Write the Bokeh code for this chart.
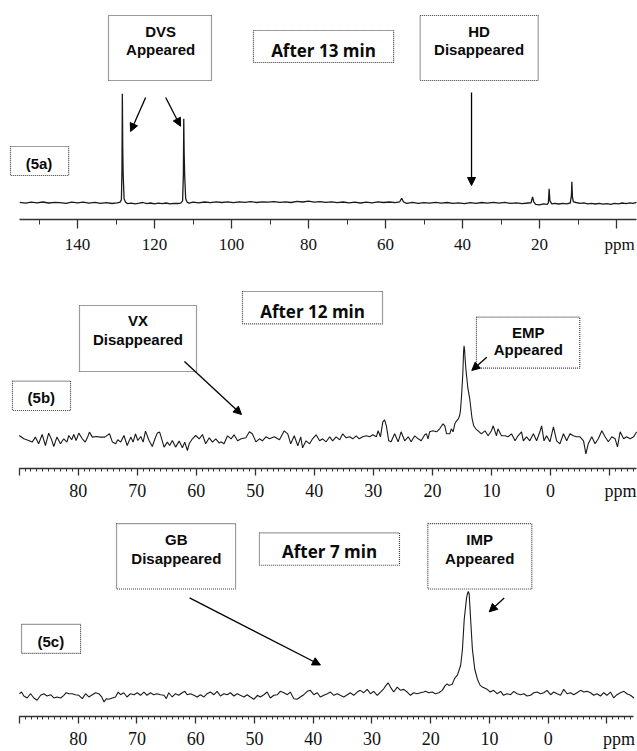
from bokeh.plotting import figure
from bokeh.models import Range1d, FixedTicker, Arrow, NormalHead, LinearAxis
from bokeh.layouts import column
from bokeh.embed import file_html
from bokeh.resources import INLINE
from bokeh.core.properties import value

# ---------------- data (intensity in arbitrary units) ----------------
ppm_a = [155.0, 153.5, 152.0, 150.5, 149.0, 147.5, 146.0, 144.5, 143.0, 141.5, 140.0, 138.5, 137.0,
         135.5, 134.0, 132.5, 131.0, 129.8, 129.0, 128.6, 128.45, 128.35, 128.25, 128.15, 127.9, 127.5,
         127.0, 126.0, 125.0, 124.0, 123.0, 122.0, 121.0, 120.0, 119.0, 118.0, 117.0, 116.0, 115.0,
         114.0, 113.2, 112.7, 112.5, 112.4, 112.3, 112.15, 111.9, 111.5, 111.0, 110.0, 108.5, 107.0,
         105.5, 104.0, 102.5, 101.0, 99.5, 98.0, 96.5, 95.0, 93.5, 92.0, 90.5, 89.0, 87.5, 86.0, 84.5,
         83.0, 81.5, 80.0, 78.5, 77.0, 75.5, 74.0, 72.5, 71.0, 69.5, 68.0, 66.5, 65.0, 63.5, 62.0, 60.5,
         59.0, 57.5, 56.3, 55.8, 55.3, 54.5, 53.0, 51.5, 50.0, 48.5, 47.0, 45.5, 44.0, 42.5, 41.0, 39.5,
         38.0, 36.5, 35.0, 33.5, 32.0, 30.5, 29.0, 27.5, 26.0, 24.5, 23.0, 22.2, 21.8, 21.5, 21.0, 20.0,
         19.0, 18.0, 17.7, 17.5, 17.3, 16.8, 16.0, 15.0, 14.0, 13.0, 12.0, 11.7, 11.6, 11.45, 11.2,
         10.5, 9.5, 8.5, 7.5, 6.5, 5.5, 4.5, 3.5, 2.5, 1.5, 0.5, -0.5, -1.5, -2.5, -3.4, -4.3, -5.2]
int_a = [0.5, -0.3, 0.6, 0.0, 0.8, -0.2, 0.5, 0.2, -0.5, 0.6, 0.0, 0.7, -0.3,
         0.4, -0.6, 0.2, -0.7, 0.0, 0.5, 3.0, 32.0, 109.0, 55.0, 30.0, 4.0, 0.5,
         -0.8, -0.3, -1.0, -0.4, 0.3, -0.8, -0.2, -1.0, -0.3, -0.9, -0.2, -1.0, -0.5,
         -0.7, -0.4, 2.0, 28.0, 84.0, 50.0, 26.0, 4.0, 0.5, -0.3, 0.6, 0.0, 0.8,
         0.2, 1.0, 0.3, 0.9, 0.2, 1.0, 0.5, 1.2, 0.3, 1.0, 0.6, 1.2, 0.4, 1.0, 0.3,
         1.4, 0.8, 1.6, 0.6, 1.2, 0.4, 1.0, 0.2, 0.8, 0.0, 0.6, -0.2, 0.7, 0.0, 0.9, 0.3,
         0.8, 0.2, 1.0, 4.5, 0.8, -0.5, 0.4, -0.6, 0.2, -0.4, 0.5, -0.3, 0.3, -0.5, 0.0, -0.8,
         0.2, -0.6, 0.3, -0.4, 0.5, -0.3, 0.4, -0.6, 0.0, -0.8, -0.2, 0.0, 6.0, 1.0, -1.5, -2.0,
         -1.0, -1.5, 0.0, 14.0, 2.0, -1.0, -0.5, -1.2, -0.6, -1.0, -0.2, 8.0, 21.0, 6.0, 1.0,
         0.3, -0.5, 0.0, -1.0, -0.5, -1.2, -0.6, -1.4, -0.8, -1.5, -0.6, -1.0, -0.2, -0.8, 0.0, -0.6, 0.4]

ppm_b = [90.0, 89.2, 88.4, 87.8, 87.25, 86.7, 86.1, 85.55, 85.0, 84.5, 84.14, 83.6, 83.0, 82.45, 81.9,
         81.6, 81.1, 80.75, 80.35, 79.9, 79.3, 78.8, 78.4, 78.1, 77.6, 76.95, 76.2, 75.5, 74.7, 74.2,
         73.65, 73.3, 72.8, 72.25, 71.7, 71.1, 70.7, 70.3, 69.9, 69.4, 69.0, 68.6, 68.0, 67.45, 67.0,
         66.6, 66.2, 65.45, 64.9, 64.5, 64.05, 63.5, 62.9, 62.35, 61.95, 61.5, 61.2, 60.65, 60.1, 59.5,
         58.95, 58.4, 57.8, 57.25, 56.7, 56.1,
         55.84, 55.3, 54.7, 54.1, 53.6, 53.0, 52.4, 51.6, 51.0, 50.5, 49.9, 49.3, 48.8, 48.2, 47.6,
         46.8, 45.9, 45.1, 44.5, 44.0, 43.4, 42.8, 42.3, 42.0, 41.4, 40.8, 40.3, 39.7, 39.1, 38.6, 38.0,
         37.4, 36.9, 36.3, 35.7, 35.2, 34.6, 34.0, 33.5, 32.9, 32.4, 31.8, 31.2, 30.6, 30.1, 29.5, 29.2,
         28.8, 28.4, 28.1, 27.8, 27.4, 27.0, 26.4, 25.8, 25.3, 24.7, 24.1, 23.6, 23.0, 22.4, 21.9, 21.3,
         21.0, 20.75, 20.46, 19.9, 19.3, 18.77, 18.2, 17.9, 17.6, 17.07, 16.8, 16.5, 16.2, 15.9, 15.6,
         15.4, 15.25, 15.05, 14.85, 14.72, 14.64, 14.55, 14.45, 14.3, 14.0, 13.7, 13.3, 13.0, 12.65,
         12.26, 11.7, 11.1, 10.56, 10.0, 9.7, 9.15, 8.9, 8.3, 7.7, 7.2, 6.6, 6.0, 5.5, 4.9, 4.6, 4.05,
         3.5, 2.9, 2.35, 1.8, 1.5, 1.1, 0.66, 0.09, -0.5, -1.04, -1.6, -2.2, -2.74, -3.3, -3.87, -4.4,
         -5.0, -5.6, -6.0, -6.4, -7.0, -7.55, -8.1, -8.7, -9.25, -9.8, -10.4, -10.95, -11.35, -11.8,
         -12.4, -12.9, -13.5, -14.1, -14.6]
int_b = [4.3, 1.0, -0.7, -2.3, 2.7, -4.0, 5.3, -5.7, 6.7, 0.0, -6.7, 2.7, -4.0, 1.0, -2.3,
         4.3, 0.0, 5.3, -0.7, 6.7, 1.0, -2.3, 2.7, 7.7, 2.7, 3.3, 2.7, 2.7, 6.0, -2.3,
         -4.0, 0.0, -2.3, 4.3, -5.7, 2.7, -2.3, 6.0, -0.7, 3.3, -2.3, 8.7, -0.7, -6.7, 1.0,
         6.7, 7.7, -7.3, -2.3, -5.7, -0.7, -7.3, -1.3, -8.0, -2.3, -10.7, -4.0, 1.0, 4.3, 1.0,
         5.3, -4.0, 2.0, -2.3, 1.0, -3.3,
         -2.0, -4.0, 4.0, 1.0, 5.0, -1.0, 1.0, 2.0, 8.0, 6.0, -2.0, 1.0, -1.0, 3.0, 1.0,
         3.0, 0.0, 9.0, 6.0, -4.0, 4.0, -6.0, 3.0, -8.0, -1.0, -4.0, 1.0, 5.0, -1.0, 1.0, -2.0,
         3.0, -1.0, 3.0, 0.0, 6.0, 2.0, 3.0, 1.0, 4.0, 1.0, 3.0, 4.0, 3.0, 5.0, 3.0, 9.0,
         3.0, 18.0, 20.0, 14.0, -1.0, -2.0, 6.0, -2.0, 8.0, -1.0, 3.0, -2.0, 4.0, 1.0, -1.0, 5.0,
         6.0, 1.0, 8.0, 9.0, 8.0, 11.0, 16.0, 14.0, 6.0, 6.0, 11.0, 8.0, 16.0, 19.0, 21.0,
         24.0, 29.0, 45.0, 66.0, 88.0, 94.0, 90.0, 80.0, 69.0, 52.0, 42.0, 22.0, 14.0, 11.0,
         9.0, 6.0, 9.0, 4.0, 9.0, 14.0, 4.0, 11.0, 4.0, 4.0, 3.0, 6.0, -1.0, 4.0, 8.0, -1.0, 3.0,
         -1.0, 6.0, -1.0, 8.0, 14.0, -1.0, 4.0, -2.0, 13.0, -1.0, -4.0, 6.0, -1.0, 6.0, 4.0, 3.0,
         3.0, -1.0, -14.0, -4.0, 3.0, -4.0, 1.0, 9.0, 3.0, -2.0, 3.0, 1.0, -7.0, 8.0,
         1.0, 3.0, 1.0, 3.0, 8.0]

ppm_c = [90.0, 89.65, 89.25, 88.7, 88.1, 87.55, 87.0, 86.4, 85.85, 85.3, 84.7, 84.15, 83.6, 83.0,
         82.45, 82.05, 81.6, 81.0, 80.5, 79.9, 79.3, 78.75, 78.2, 77.6, 77.05, 76.5, 76.0, 75.6, 75.2,
         74.8, 74.2, 73.65, 73.2, 72.8, 72.25, 71.7, 71.1, 70.5, 69.95, 69.4, 68.8, 68.3, 67.7, 67.15,
         66.6, 66.0, 65.4, 65.0, 64.6, 64.0, 63.45, 62.9, 62.3, 61.85, 61.45, 60.9, 60.3, 59.75, 59.2,
         58.6, 58.05, 57.5, 56.9, 56.35, 55.8,
         55.2, 54.65, 54.1, 53.5, 52.95, 52.4, 51.8, 51.25, 50.7, 50.1, 49.5, 49.0, 48.4, 47.85, 47.3,
         46.7, 46.1, 45.6, 45.0, 44.4, 43.9, 43.3, 42.75, 42.2, 41.6, 41.0, 40.5, 39.9, 39.3, 38.8, 38.2,
         37.6, 37.05, 36.5, 35.9, 35.4, 34.8, 34.2, 33.7, 33.1, 32.5, 32.0, 31.4, 30.8, 30.25, 29.7,
         29.1, 28.55, 28.0, 27.6, 27.25, 26.85, 26.3, 25.7, 25.15, 24.6, 24.0, 23.45, 22.9, 22.3, 21.75,
         21.2, 20.9, 20.3, 19.75, 19.2, 18.6, 18.05, 17.5, 17.2, 16.9, 16.6, 16.3, 16.2, 15.9, 15.45,
         14.9, 14.6, 14.3, 13.9, 13.75, 13.6, 13.45, 13.2, 12.9, 12.5, 12.05, 11.6, 11.2, 10.4, 9.85,
         9.3, 8.7, 8.1, 7.6, 7.0, 6.4, 5.85, 5.3, 4.7, 4.15, 3.6, 3.0, 2.45, 1.9, 1.3, 0.75, 0.2, -0.4,
         -0.95, -1.5, -2.1, -2.65, -3.2, -3.8, -4.35, -4.9, -5.5, -6.05, -6.6, -7.2, -7.75, -8.3, -8.9,
         -9.45, -10.0, -10.6, -11.15, -11.7, -12.3, -12.9, -13.4, -14.0, -14.6]
int_c = [1.3, 3.0, -1.0, -3.0, 1.3, -3.0, -5.3, -0.3, 1.3, -1.0, 0.3, -3.0, -2.0, -3.0,
         -0.3, 2.3, 1.3, 1.3, 0.3, -0.3, -3.7, 1.3, -2.0, 0.3, 2.3, 1.3, -2.0, -7.0, -3.7,
         -4.3, -3.0, -2.0, 3.0, 0.3, 2.3, -2.0, 1.3, 0.3, 2.3, -0.3, 3.0, -0.3, 2.3, 0.3,
         1.3, 0.3, -0.3, -3.7, 2.3, -2.0, 1.3, -0.3, 2.3, 3.7, 0.3, 1.3, -0.3, -2.0, 0.3,
         -2.0, 1.3, 3.0, 0.3, 3.7, -1.0,
         1.3, 0.3, 2.3, -1.0, 1.3, -0.3, -2.0, 0.3, -2.0, -4.3, -0.3, -2.0, 0.3, 3.0, -3.0,
         -0.3, 0.3, 3.7, 2.3, 0.3, 3.0, -3.7, -4.3, -2.0, 0.3, 3.7, 4.7, 0.3, 2.3, -2.0, -0.3,
         1.3, 3.0, -0.3, 1.3, -0.3, -2.0, 0.3, 2.3, -0.3, 3.0, 4.7, 2.3, 5.7, 1.3, 3.7,
         -0.3, 3.0, 6.3, 9.7, 12.3, 8.0, 3.0, 8.0, 4.7, 5.7, 3.0, -0.3, 2.3, 1.3, 2.3,
         3.0, 3.7, 2.3, 3.0, 1.3, 2.3, 4.7, 9.7, 11.3, 9.7, 10.3, 11.0, 13.0, 17.0, 20.0,
         30.0, 46.0, 76.0, 98.0, 102.0, 104.6, 102.0, 76.0, 46.0, 26.0, 16.0, 10.0, 8.0, 5.7, 3.0,
         4.7, 1.3, 3.7, -0.3, 1.3, 0.3, 3.7, 1.3, 0.3, 1.3, -1.0, -0.3, 2.3, 3.0, 1.3, 2.3, 4.7, 0.3,
         3.0, 1.3, -0.3, 5.7, 1.3, 2.3, 0.3, 2.3, 4.7, 3.0, 3.7, 2.3, -0.3, 1.3, -1.0,
         2.3, -0.3, 3.0, -3.0, 0.3, 2.3, 3.7, 1.3, -0.3, -3.0]

# tick positions (ppm) and tick labels
major_a = [140, 120, 100, 80, 60, 40, 20, 0]
minor_a = [150, 130, 110, 90, 70, 50, 30, 10]
labels_a = [140, 120, 100, 80, 60, 40, 20]
unit_pos_a = -0.78
major_bc = [90, 80, 70, 60, 50, 40, 30, 20, 10, 0, -10]
minor_bc = list(range(-14, 91))
labels_bc = [80, 70, 60, 50, 40, 30, 20, 10, 0]
unit_pos_b = -11.85
unit_pos_c = -12.05
unit_label = "ppm"

LINE = "#1a1a1a"
BOXC = "#3a3a3a"
SANS = "Liberation Sans"


def make_fig(height, xr, yr, bottom, bounds, major, minor, tick_out, minor_out,
             labels, unit_pos, standoff, fsize):
    p = figure(width=637, height=height, x_range=Range1d(*xr), y_range=Range1d(*yr),
               output_backend="svg", toolbar_location=None, y_axis_location=None,
               min_border_left=0, min_border_right=0, min_border_top=0, min_border_bottom=bottom)
    p.grid.visible = False
    p.outline_line_color = None
    p.background_fill_color = "white"
    p.border_fill_color = "white"
    # axis 1: line and tick marks only (its labels are empty)
    ax = p.xaxis[0]
    ax.ticker = FixedTicker(ticks=major, minor_ticks=minor)
    ax.major_label_overrides = {t: "" for t in major}
    ax.bounds = bounds
    ax.axis_line_color = "#333333"
    ax.axis_line_width = 1.5
    ax.major_tick_line_color = "#333333"
    ax.major_tick_line_width = 1.3
    ax.minor_tick_line_color = "#333333"
    ax.minor_tick_line_width = 1.0
    ax.major_tick_in = 0
    ax.major_tick_out = tick_out
    ax.minor_tick_in = 0
    ax.minor_tick_out = minor_out
    ax.major_label_standoff = 0
    ax.major_label_text_font_size = "1px"
    # axis 2: the tick labels (numbers and the unit)
    ax2 = LinearAxis(ticker=FixedTicker(ticks=labels + [unit_pos], minor_ticks=[]),
                     major_label_overrides={unit_pos: unit_label},
                     axis_line_color=None, major_tick_line_color=None,
                     minor_tick_line_color=None, major_tick_in=0, major_tick_out=0,
                     minor_tick_in=0, minor_tick_out=0, major_label_standoff=standoff,
                     major_label_text_font="Liberation Serif",
                     major_label_text_font_size=fsize, major_label_text_color="#111111")
    p.add_layout(ax2, "below")
    return p


def boxes(p, left, right, top, bottom):
    p.quad(left=left, right=right, top=top, bottom=bottom, fill_color=None,
           line_color=BOXC, line_dash="1 1", line_width=1.2)


def texts(p, xs, ys, labels, size, font=SANS):
    p.text(x=xs, y=ys, text=labels, text_font=value(font), text_font_style="bold",
           text_font_size=size, text_align="center", text_baseline="alphabetic",
           text_color="#0a0a0a", y_offset=-5)


def arrow(p, x0, y0, x1, y1):
    p.add_layout(Arrow(end=NormalHead(size=8, fill_color="black", line_color="black"),
                       x_start=x0, y_start=y0, x_end=x1, y_end=y1,
                       line_color="black", line_width=1.3))


# ---------------- panel (5a) ----------------
pa = make_fig(258, (160.0, -5.45), (-16.7, 202.3), 39, (-5.2, 155.06), major_a, minor_a,
              9, 5, labels_a, unit_pos_a, 6, "17px")
pa.line(ppm_a, int_a, line_color=LINE, line_width=1.3)
boxes(pa, [131.95, 94.3, 51.0, 157.4], [105.2, 57.9, 20.34, 142.3],
      [187.3, 172.3, 187.3, 56.3], [122.3, 140.3, 122.3, 27.3])
texts(pa, [118.4, 118.4, 35.7, 35.7, 150.0], [166.3, 148.0, 166.3, 148.0, 34.0],
      ["DVS", "Appeared", "HD", "Disappeared", "(5a)"], "15px")
texts(pa, [76.1], [147.3], ["After 13 min"], "17px", font="Open Sans")
arrow(pa, 122.3, 105.3, 126.2, 71.3)
arrow(pa, 117.1, 105.3, 113.25, 76.6)
arrow(pa, 37.66, 110.3, 37.66, 17.3)

# ---------------- panel (5b) ----------------
pb = make_fig(248, (93.16, -14.74), (-28.7, 181.3), 38, (-14.6, 89.94), major_bc, minor_bc,
              7, 3, labels_bc, unit_pos_b, 5, "18px")
pb.line(ppm_b, int_b, line_color=LINE, line_width=1.1)
boxes(pb, [91.13, 79.78, 52.17, 12.54], [81.3, 59.96, 28.45, -4.96],
      [58.6, 134.3, 148.3, 122.6], [29.3, 68.3, 116.0, 71.6])
texts(pb, [86.25, 69.87, 69.87, 3.77, 3.77], [37.6, 114.3, 95.0, 102.6, 85.0],
      ["(5b)", "VX", "Disappeared", "EMP", "Appeared"], "15px")
texts(pb, [40.3], [123.3], ["After 12 min"], "17px", font="Open Sans")
arrow(pb, 62.0, 78.3, 52.33, 25.3)
arrow(pb, 10.79, 82.6, 13.33, 69.3)

# ---------------- panel (5c) ----------------
pc = make_fig(245, (93.23, -15.2), (-21.7, 190.3), 33, (-14.6, 89.99), major_bc, minor_bc,
              7, 3, labels_bc, unit_pos_c, 5, "18px")
pc.line(ppm_c, int_c, line_color=LINE, line_width=1.1)
boxes(pc, [89.65, 73.48, 49.15, 20.49], [79.6, 53.22, 25.32, 2.79],
      [71.3, 173.0, 163.6, 173.0], [42.0, 107.0, 131.0, 107.0])
texts(pc, [84.66, 63.3, 63.3, 11.66, 11.66], [49.0, 152.0, 133.0, 152.0, 133.0],
      ["(5c)", "GB", "Disappeared", "IMP", "Appeared"], "15px")
texts(pc, [37.22], [139.6], ["After 7 min"], "17px", font="Open Sans")
arrow(pc, 61.05, 98.0, 38.77, 30.3)
arrow(pc, 7.49, 98.0, 10.04, 84.0)

layout = column(pa, pb, pc, spacing=0)
open("out.html", "w").write(file_html(layout, INLINE))
